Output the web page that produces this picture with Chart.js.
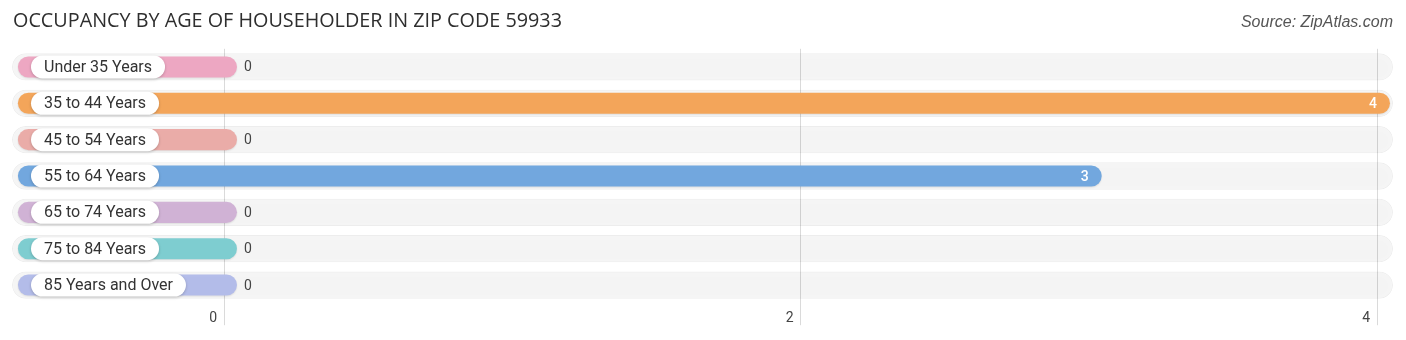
<!DOCTYPE html>
<html>
<head>
<meta charset="utf-8">
<script src="https://cdn.jsdelivr.net/npm/chart.js@4/dist/chart.umd.min.js"></script>
<style>
  html, body { margin: 0; padding: 0; background: #fff; }
  #wrap { position: relative; width: 1406px; height: 340px; }
  #title { position: absolute; left: 13px; top: 6px; font-family: "Open Sans", sans-serif; font-size: 19.8px; color: #2e2e2e; white-space: nowrap; }
  #source { position: absolute; right: 13px; top: 13px; font-family: "Liberation Sans", Arial, sans-serif; font-style: italic; font-size: 16px; color: #555; white-space: nowrap; }
  canvas { position: absolute; left: 0; top: 0; }
</style>
</head>
<body>
<div id="wrap">
  <canvas id="c" width="1406" height="340"></canvas>
  <div id="title">OCCUPANCY BY AGE OF HOUSEHOLDER IN ZIP CODE 59933</div>
  <div id="source">Source: ZipAtlas.com</div>
</div>
<script>
const categories = ['Under 35 Years', '35 to 44 Years', '45 to 54 Years', '55 to 64 Years', '65 to 74 Years', '75 to 84 Years', '85 Years and Over'];
const values = [0, 4, 0, 3, 0, 0, 0];
const barColors = ['#f9b0cc', '#ffae5f', '#f6b5b1', '#78b0ea', '#dbbce0', '#86d8db', '#bdc6f5'];
const tickValues = [0, 2, 4];

// axis layout constants (styling, not data)
const X_MIN = -0.7355, X_MAX = 4.0555;
const BAR_START = -0.715, BAR_CAP = 0.045;

const trackData = categories.map(() => [X_MIN, X_MAX]);
const barData = values.map(v => [BAR_START, v + BAR_CAP]);

const trackShadow = {
  id: 'trackShadow',
  beforeDatasetDraw(chart, args) {
    const ctx = chart.ctx;
    ctx.save();
    if (args.index === 0) {
      ctx.shadowColor = 'rgba(0,0,0,0.18)';
      ctx.shadowBlur = 3;
      ctx.shadowOffsetX = 0;
      ctx.shadowOffsetY = 1;
    } else {
      ctx.shadowColor = 'rgba(0,0,0,0.10)';
      ctx.shadowBlur = 2;
      ctx.shadowOffsetY = 1;
    }
  },
  afterDatasetDraw(chart) {
    chart.ctx.restore();
  }
};

const labelsPlugin = {
  id: 'labelsPlugin',
  afterDatasetsDraw(chart) {
    const ctx = chart.ctx;
    const xs = chart.scales.x, ys = chart.scales.y;
    categories.forEach((cat, i) => {
      const y = ys.getPixelForValue(i);
      ctx.save();
      ctx.font = '16px Roboto, sans-serif';
      const tw = ctx.measureText(cat).width;
      const px = 31, ph = 23, pw = tw + 26;
      ctx.shadowColor = 'rgba(0,0,0,0.22)';
      ctx.shadowBlur = 3;
      ctx.shadowOffsetY = 1;
      ctx.fillStyle = '#ffffff';
      ctx.beginPath();
      ctx.roundRect(px, y - ph / 2, pw, ph, ph / 2);
      ctx.fill();
      ctx.restore();
      ctx.save();
      ctx.font = '16px Roboto, sans-serif';
      ctx.fillStyle = '#333';
      ctx.textBaseline = 'middle';
      ctx.textAlign = 'left';
      ctx.fillText(cat, px + 13, y + 1);
      const v = values[i];
      const endPx = xs.getPixelForValue(v + BAR_CAP);
      if (v > 0) {
        ctx.fillStyle = '#ffffff';
        ctx.textAlign = 'right';
        ctx.font = '500 14px Roboto, sans-serif';
        ctx.fillText(String(v), endPx - 13, y + 1);
      } else {
        ctx.font = '14px Roboto, sans-serif';
        ctx.fillStyle = '#444';
        ctx.textAlign = 'left';
        ctx.fillText(String(v), endPx + 7, y + 1);
      }
      ctx.restore();
    });
  }
};

new Chart(document.getElementById('c'), {
  type: 'bar',
  data: {
    labels: categories,
    datasets: [
      {
        data: trackData,
        backgroundColor: 'rgba(0,0,0,0.04)',
        borderColor: 'rgba(0,0,0,0.07)',
        borderWidth: 1,
        borderSkipped: false,
        borderRadius: 14,
        barPercentage: 0.75,
        categoryPercentage: 1,
        grouped: false
      },
      {
        data: barData,
        backgroundColor: barColors,
        borderWidth: 0,
        borderSkipped: false,
        borderRadius: 11,
        barPercentage: 0.58,
        categoryPercentage: 1,
        grouped: false
      }
    ]
  },
  options: {
    indexAxis: 'y',
    responsive: false,
    maintainAspectRatio: false,
    animation: false,
    layout: { padding: { left: 12, right: 13, top: 48.8, bottom: 0 } },
    plugins: { legend: { display: false }, tooltip: { enabled: false }, title: { display: false } },
    scales: {
      y: { display: false },
      x: {
        type: 'linear',
        min: X_MIN,
        max: X_MAX,
        afterBuildTicks: (s) => { s.ticks = tickValues.map(v => ({ value: v })); },
        afterFit: (s) => { s.height = 36.8; },
        border: { display: false },
        grid: { color: '#dadada', lineWidth: 1, drawTicks: true, tickLength: 22 },
        ticks: {
          align: 'end',
          labelOffset: -7,
          padding: -15,
          color: '#444',
          font: { family: 'Roboto, sans-serif', size: 14 }
        }
      }
    }
  },
  plugins: [trackShadow, labelsPlugin]
});
</script>
</body>
</html>
